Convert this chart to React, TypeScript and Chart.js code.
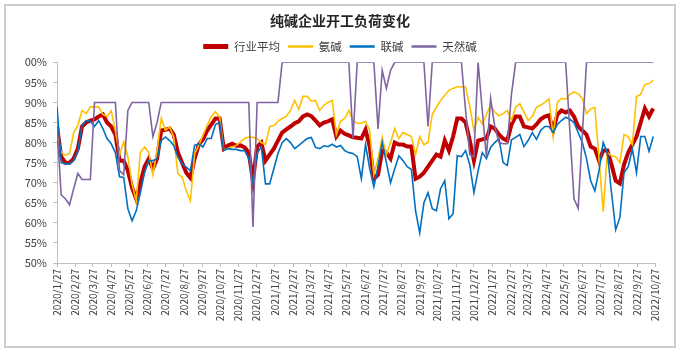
import React, { useEffect, useRef } from 'react';
import { Chart, registerables } from 'chart.js';

Chart.register(...registerables);

const TITLE = '纯碱企业开工负荷变化';
const SERIES_NAMES = ['行业平均', '氨碱', '联碱', '天然碱'];
const SERIES_COLORS = ['#C00000', '#FFC000', '#0070C0', '#8064A2'];

// weekly observations starting at this date
const START_DATE = '2020/1/27';
const WEEK_DAYS = 7;

const X_TICK_LABELS = [
  '2020/1/27', '2020/2/27', '2020/3/27', '2020/4/27', '2020/5/27', '2020/6/27',
  '2020/7/27', '2020/8/27', '2020/9/27', '2020/10/27', '2020/11/27', '2020/12/27',
  '2021/1/27', '2021/2/27', '2021/3/27', '2021/4/27', '2021/5/27', '2021/6/27',
  '2021/7/27', '2021/8/27', '2021/9/27', '2021/10/27', '2021/11/27', '2021/12/27',
  '2022/1/27', '2022/2/27', '2022/3/27', '2022/4/27', '2022/5/27', '2022/6/27',
  '2022/7/27', '2022/8/27', '2022/9/27', '2022/10/27',
];

const Y_MIN = 50;
const Y_MAX = 100;
const Y_STEP = 5;

// 行业平均
const AVG = [
  84, 76.5, 75, 75, 76, 78.5, 84, 85, 85.5, 85.8, 86.5, 87,
  85, 84, 82, 75.5, 75.5, 73, 68.8, 66, 70, 74, 76, 73.5,
  76, 83, 83.2, 83.5, 82, 77.5, 75, 72.5, 71.2, 76, 79.5, 80.8,
  83, 84.5, 86, 86, 78.5, 79.3, 79.7, 79.2, 79.3, 78.8, 77.5, 70.5,
  79, 80, 75.5, 77, 78.5, 80.5, 82.5, 83.3, 84, 84.8, 85.3, 86.5,
  87, 86.6, 85.5, 84.3, 85, 85.3, 85.8, 81.5, 83, 82.2, 81.8, 81.3,
  81.2, 81, 83.2, 79, 71, 72, 78, 77.5, 76, 80, 79.5, 79.5,
  79, 79, 71, 71.5, 72.5, 74, 75.5, 77, 76.5, 80.5, 78, 81.5,
  86, 86, 85, 80.5, 75.5, 80.5, 80.8, 81, 84, 83.5, 82, 81,
  80.5, 84.5, 86.5, 86.5, 84, 83.8, 83.5, 84.5, 85.8, 86.5, 86.8, 83,
  87, 88, 87.5, 88, 86.5, 84, 83, 82, 79, 78.5, 75.5, 78,
  78, 74.5, 70.5, 69.8, 74.5, 77.5, 79.5, 81.5, 85, 88.5, 86.5, 88.5,
];

// 氨碱
const AMMONIA = [
  82.2, 77.5, 76.8, 77.3, 82.5, 84.3, 88, 87.2, 88.9, 88.9, 88.9, 87,
  86.5, 87.9, 83, 77, 80.2, 76.4, 69.7, 65.5, 77.6, 78.9, 77.6, 72,
  78, 86, 83.1, 83.9, 81.4, 72.2, 71.4, 68, 65.5, 77.2, 79.3, 81.8,
  84.3, 86.5, 87.7, 86.4, 78.1, 78.5, 78.9, 79.3, 80.2, 81, 81.4, 81.3,
  81, 80, 79.5, 84, 84.2, 85.3, 86, 86.5, 88, 90.5, 88.3, 91.5,
  91.5, 90.3, 90.5, 88, 89.3, 90, 90.5, 82, 85.3, 86, 88, 85.5,
  84.8, 84.8, 85.3, 83, 72, 76, 81.3, 77, 80, 83.5, 81, 82.5,
  82, 81.5, 77, 81.5, 79.5, 80, 87, 88.8, 90.5, 91.8, 93, 93.5,
  93.9, 93.9, 93.8, 89, 83, 86.3, 84.6, 87, 89.3, 87.6, 86.7, 87.2,
  88, 85.5, 88.8, 89.7, 87.6, 85.5, 86.5, 88.8, 89.3, 90, 90.9, 81.5,
  90, 91, 90.8, 92, 92.6, 92.2, 91, 87.2, 88.4, 88.8, 76, 62.8,
  77.5, 76.7, 76.5, 75, 82, 81.5, 79.5, 91.5, 92, 94.5, 94.7, 95.5,
];

// 联碱
const JOINT = [
  89, 75, 74.7, 74.7, 75.5, 78, 84.3, 85.5, 85.3, 84, 85.5, 83.5,
  81, 79.7, 77.5, 71.5, 71.3, 63.5, 60.5, 63, 67.5, 72.5, 75.5, 75.5,
  76, 80.5, 81.4, 80.5, 79.3, 76.4, 74.7, 73.9, 73, 79.3, 79.7, 78.9,
  81, 81, 84.5, 85, 78, 78.5, 78.3, 78.3, 78, 78, 76, 70,
  77.3, 79, 69.7, 69.7, 73.5, 77.3, 80, 81, 80, 78.5, 79.3, 80.2,
  81, 81.3, 78.8, 78.5, 79.2, 79, 79.6, 78.9, 79.3, 78, 77.5, 77.3,
  76.5, 71, 79.5, 73.5, 69, 74, 80, 75, 70, 73.5, 76.7, 75.5,
  74, 73.3, 63, 57.5, 65, 67.5, 63.5, 63, 68.5, 70.5, 61, 62.3,
  76.7, 76.5, 78, 74.5, 67.5, 73, 77.5, 76, 78.8, 80, 81, 75,
  74.3, 80.7, 81.3, 82, 79, 80.5, 82.5, 80.8, 83, 84, 84, 82.5,
  84.5, 85.5, 86.3, 85.8, 85, 82.5, 80, 76, 70.5, 68, 73, 80,
  77.5, 67.5, 58.3, 61.3, 72.5, 74, 78.4, 72.5, 81.5, 81.5, 77.8, 81.5,
];

// 天然碱
const NATURAL = [
  84, 67, 66, 64.5, 68.5, 72.3, 70.8, 70.8, 70.8, 90, 90, 90,
  90, 90, 90, 73, 72, 88, 90, 90, 90, 90, 90, 81.5,
  85, 90, 90, 90, 90, 90, 90, 90, 90, 90, 90, 90,
  90, 90, 90, 90, 90, 90, 90, 90, 90, 90, 90, 59,
  90, 90, 90, 90, 90, 90, 100, 100, 100, 100, 100, 100,
  100, 100, 100, 100, 100, 100, 100, 100, 100, 100, 100, 81,
  100, 100, 100, 100, 100, 83.4, 98, 93.5, 98, 100, 100, 100,
  100, 100, 100, 100, 100, 84, 100, 100, 100, 100, 100, 100,
  100, 100, 88, 77, 76.5, 100, 88, 76.4, 91, 84, 80, 79.7,
  79.7, 92, 100, 100, 100, 100, 100, 100, 100, 100, 100, 100,
  100, 100, 100, 83, 66, 63.6, 82, 100, 100, 100, 100, 100,
  100, 100, 100, 100, 100, 100, 100, 100, 100, 100, 100, 100,
];

const SERIES = [AVG, AMMONIA, JOINT, NATURAL];

const FONT = "'Noto Sans CJK SC', 'Noto Sans', sans-serif";

function dayOf(label: string): number {
  const [y, m, d] = label.split('/').map(Number);
  const [y0, m0, d0] = START_DATE.split('/').map(Number);
  return Math.round((Date.UTC(y, m - 1, d) - Date.UTC(y0, m0 - 1, d0)) / 86400000);
}

const TICK_DAYS = X_TICK_LABELS.map(dayOf);

export default function App() {
  const ref = useRef<HTMLCanvasElement | null>(null);

  useEffect(() => {
    if (!ref.current) return;
    const datasets = SERIES.map((vals, si) => ({
      label: SERIES_NAMES[si],
      data: vals.map((v, i) => ({ x: i * WEEK_DAYS, y: v })),
      borderColor: SERIES_COLORS[si],
      backgroundColor: SERIES_COLORS[si],
      borderWidth: si === 0 ? 4 : 1.6,
      pointRadius: 0,
      tension: 0,
      fill: false,
      order: SERIES.length - si,
    }));

    const chart = new Chart(ref.current, {
      type: 'line',
      data: { datasets },
      options: {
        responsive: false,
        animation: false,
        layout: { padding: { left: 25, right: 27, top: 8, bottom: 0 } },
        plugins: {
          title: {
            display: true,
            text: TITLE,
            color: '#262626',
            font: { size: 14, weight: 'bold', family: FONT },
            padding: { top: 4, bottom: 4 },
          },
          legend: {
            display: true,
            position: 'top',
            labels: {
              usePointStyle: true,
              pointStyle: 'line',
              pointStyleWidth: 25,
              boxHeight: 10,
              padding: 8,
              color: '#404040',
              font: { size: 11.5, family: FONT },
              sort: (a: any, b: any) => a.datasetIndex - b.datasetIndex,
              generateLabels: (c: any) => {
                const items = Chart.defaults.plugins.legend.labels.generateLabels(c);
                return items.map((it: any) => ({
                  ...it,
                  lineWidth: it.datasetIndex === 0 ? 5 : 2.5,
                }));
              },
            },
          },
          tooltip: { enabled: false },
        },
        scales: {
          x: {
            type: 'linear',
            min: 0,
            max: TICK_DAYS[TICK_DAYS.length - 1],
            afterBuildTicks: (s: any) => {
              s.ticks = TICK_DAYS.map((v) => ({ value: v }));
            },
            afterFit: (s: any) => {
              s.height = 89;
            },
            ticks: {
              autoSkip: false,
              maxRotation: 90,
              minRotation: 90,
              padding: 2,
              color: '#404040',
              font: { size: 10, family: FONT },
              callback: (_v: any, i: number) => X_TICK_LABELS[i],
            },
            grid: {
              display: true,
              drawOnChartArea: false,
              drawTicks: true,
              tickLength: 4,
              color: '#bfbfbf',
            },
            border: { color: '#bfbfbf' },
          },
          y: {
            min: Y_MIN,
            max: Y_MAX,
            afterFit: (s: any) => {
              s.width = 32;
            },
            ticks: {
              stepSize: Y_STEP,
              padding: 6,
              color: '#404040',
              font: { size: 11, family: FONT },
              callback: (v: any) => v + '%',
            },
            grid: {
              display: true,
              drawOnChartArea: false,
              drawTicks: true,
              tickLength: 4,
              color: '#bfbfbf',
            },
            border: { color: '#bfbfbf' },
          },
        },
      },
    } as any);
    return () => chart.destroy();
  }, []);

  return (
    <div style={{ position: 'fixed', left: 0, top: 0, width: 682, height: 352, background: '#fff' }}>
      <canvas ref={ref} width={682} height={352} style={{ position: 'absolute', left: 0, top: 0, width: 682, height: 352 }} />
      <div
        style={{
          position: 'absolute',
          left: 4,
          top: 4,
          width: 668,
          height: 340,
          border: '2px solid #cccccc',
          pointerEvents: 'none',
        }}
      />
    </div>
  );
}
